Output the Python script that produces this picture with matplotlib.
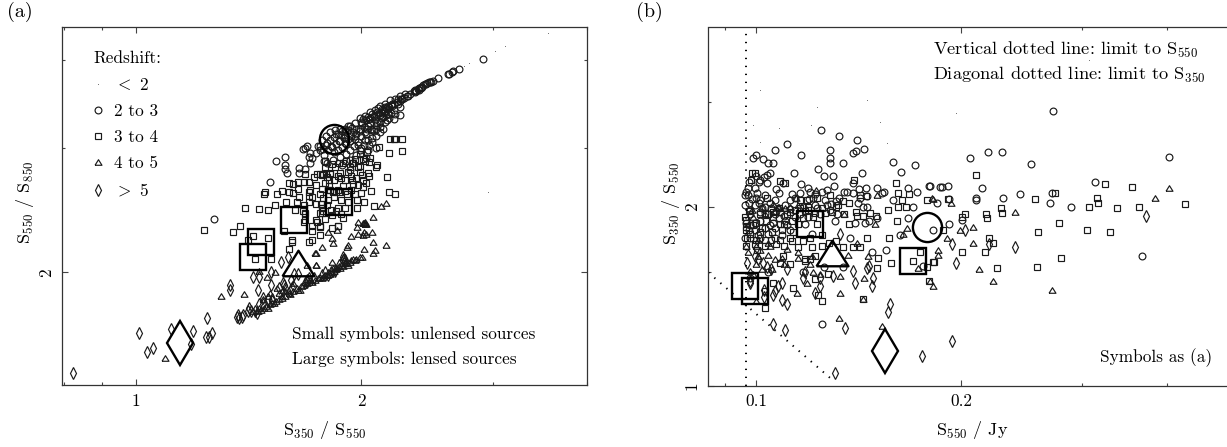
import matplotlib
matplotlib.use("Agg")
import matplotlib.pyplot as plt
from matplotlib.lines import Line2D
from matplotlib.ticker import FixedLocator, FixedFormatter

plt.rcParams['font.family'] = ['cmr10', 'DejaVu Serif']
plt.rcParams['mathtext.fontset'] = 'cm'
plt.rcParams['axes.formatter.use_mathtext'] = True

# ---- panel (a): S350/S550 vs S550/S850 ----
a_dots = [(3.55,4.37),(3.11,4.19),(3.02,4.12),(2.79,3.97),(2.74,3.92),(2.95,2.60)]
a_circles = [(1.27,2.38),(1.54,2.88),(1.58,2.92),(1.58,2.84),(1.58,2.80),(1.59,2.77),(1.51,2.69),(1.67,2.99),(1.69,3.02),(1.68,3.00),(1.71,2.95),(1.70,2.92),(1.72,2.91),(1.74,2.95),(1.71,2.86),(1.65,2.81),(1.65,2.77),(1.68,2.80),(1.75,3.02),(1.785,2.93),(1.785,2.88),(1.80,2.86),
(1.774,3.08),(1.796,3.12),(1.818,3.16),(1.846,3.18),(1.875,3.20),(1.796,3.03),(1.818,3.08),(1.841,3.11),(1.863,3.14),(1.886,3.17),(1.807,2.98),(1.829,3.01),(1.852,3.04),(1.875,3.07),(1.898,3.10),(1.841,2.96),(1.863,2.98),(1.886,3.01),(1.91,3.04),(1.933,3.07),(1.904,3.13),(1.921,3.18),(1.945,3.21),(1.875,2.92),(1.91,2.94),(1.933,2.98),(1.957,3.02),(1.981,3.06),(1.963,3.12),(1.994,3.17),(2.018,3.22),(1.933,2.89),(1.969,2.93),(1.994,2.98),(2.018,3.03),(2.043,3.08),(2.031,3.14),(2.069,3.18),(2.095,3.24),(2.121,3.34),(2.082,3.33),(2.056,3.31),(2.006,3.26),(1.969,3.20),(2.147,3.38),(2.108,3.42),
(1.904,3.20),(1.933,3.23),(1.963,3.26),(1.994,3.31),(2.025,3.33),(2.056,3.38),(2.088,3.40),(2.121,3.44),(2.153,3.47),(2.187,3.51),(2.221,3.53),(2.255,3.56),(2.29,3.58),(2.362,3.63),(2.385,3.65),(2.42,3.69),(2.46,3.72),(2.49,3.74),(2.535,3.77),(2.62,3.83),(2.65,3.86),(2.70,3.89),(2.91,4.02),(2.35,3.62),(2.38,3.64),(2.40,3.67),(2.445,3.71),(2.48,3.73),(2.615,3.83),(2.64,3.85),(2.31,3.56),(2.27,3.53),(2.24,3.52),(2.20,3.47),(2.174,3.45),(2.153,3.43),(2.134,3.41),
(2.255,3.43),(2.21,3.40),(2.255,3.35),(2.21,3.30),(2.167,3.29),(2.14,3.19),(2.095,3.20),(2.22,3.36),(2.174,3.36),(2.14,3.32),(2.121,3.27),(2.088,3.29),(2.056,3.26),(2.037,3.20),(2.069,3.06),(2.095,3.12),(2.12,3.16),(2.04,2.98),(2.09,3.00),(2.03,2.91),(1.93,2.79),(1.886,2.84),(1.835,2.89),(1.763,2.98)]
a_circles_ridge = [(2.0,3.27),(2.01,3.30),(2.03,3.29),(2.04,3.32),(2.05,3.30),(2.07,3.32),(2.07,3.36),(2.09,3.35),(2.10,3.38),(2.11,3.37),(2.13,3.37),(2.14,3.40),(2.15,3.39),(2.16,3.42),(2.17,3.41),(2.18,3.43),(2.19,3.46),(2.20,3.44),(2.21,3.47),(2.23,3.49),(2.24,3.47),(2.25,3.50),(2.26,3.52),(2.28,3.54),(2.30,3.56),(2.32,3.58),(1.95,3.16),(1.97,3.14),(1.99,3.20),(2.00,3.12),(2.02,3.16),(2.04,3.23),(2.06,3.20),(2.08,3.17),(2.10,3.26),(2.12,3.22),(2.13,3.31),(2.15,3.27),(2.16,3.34),(2.18,3.31),(2.19,3.37),(1.90,3.05),(1.92,3.09),(1.94,3.12),(1.96,3.09),(1.98,3.03),(2.00,3.00),(2.02,3.08),(2.05,3.03),(2.07,3.10),(1.88,3.13),(1.90,3.17),(1.92,3.23),(1.85,3.14),(1.87,3.07),(2.36,3.61),(2.37,3.62),(2.385,3.63),(2.40,3.65),(2.41,3.66),(2.43,3.70),(2.44,3.70),(2.47,3.72),(1.76,3.02),(1.78,2.99),(1.80,3.05),(1.82,3.02)]
a_squares = [(1.234,2.30),(1.378,2.33),(1.40,2.47),(1.46,2.46),(1.50,2.45),(1.534,2.49),(1.488,2.60),(1.483,2.58),(1.544,2.58),(1.568,2.61),(1.622,2.67),(1.587,2.52),(1.632,2.45),(1.683,2.43),(1.602,2.68),(1.647,2.63),(1.622,2.59),(1.642,2.52),(1.678,2.49),(1.678,2.69),(1.647,2.69),(1.683,2.76),(1.434,2.25),(1.50,2.24),(1.348,2.28),(1.412,2.22),(1.443,2.09),(1.516,2.09),(1.577,2.29),(1.617,2.22),(1.617,2.21),(1.602,2.16),(1.704,2.21),(1.72,2.29),(1.763,2.32),(1.829,2.31),(1.863,2.33),(1.704,2.69),(1.709,2.62),(1.73,2.73),(1.774,2.63),(1.747,2.76),(1.763,2.76),(1.78,2.76),(1.796,2.77),(1.818,2.77),(1.704,2.52),(1.812,2.65),(1.818,2.62),(1.852,2.60),(1.768,2.50),(1.774,2.47),(1.774,2.43),(1.683,2.42),(1.683,2.37),(1.741,2.37),(1.763,2.33),(1.72,2.33),
(2.21,3.09),(2.187,3.09),(2.22,3.09),(2.27,3.09),(2.18,2.95),(2.27,2.97),(2.167,2.73),(2.18,2.60),(2.22,2.58),(2.114,3.01),(2.095,2.82),(2.10,2.84),(2.062,2.61),(2.056,2.91),(2.012,2.90),(1.994,2.83),(1.95,2.86),(2.037,2.96),(1.933,2.82),(1.945,2.70),(1.95,2.67),(2.012,2.70),(2.006,2.75),(2.012,2.64),(1.892,2.65),(1.875,2.60),(1.915,2.58),(1.835,2.60),(1.807,2.62),(1.812,2.70),(1.774,2.75),(1.818,2.76),(1.875,2.77),(1.79,2.81),(1.846,2.82),(1.892,2.86),(1.945,2.86),
(2.018,2.52),(2.082,2.48),(1.975,2.47),(1.975,2.53),(1.863,2.33),(1.892,2.39),(1.747,2.36),(1.678,2.36),(1.774,2.47),(1.78,2.44),(1.807,2.53),(1.904,2.47),(1.863,2.47),(2.043,2.77),(1.981,2.82)]
a_squares_mid = [(1.70,2.60),(1.72,2.56),(1.74,2.66),(1.76,2.58),(1.78,2.55),(1.80,2.49),(1.82,2.45),(1.84,2.56),(1.86,2.62),(1.88,2.53),(1.90,2.61),(1.92,2.52),(1.94,2.62),(1.96,2.58),(1.98,2.66),(2.00,2.59),(2.03,2.68),(2.05,2.74),(1.84,2.70),(1.86,2.74),(1.88,2.72),(1.90,2.70),(1.92,2.78),(1.94,2.74),(1.97,2.72),(1.99,2.78),(1.79,2.68),(1.80,2.73),(1.70,2.57),(1.65,2.56),(1.60,2.60),(1.67,2.44),(1.76,2.43),(1.74,2.50),(1.83,2.41),(1.85,2.44),(1.88,2.42),(1.79,2.38),(1.76,2.26),(1.72,2.22),(2.05,2.87),(2.02,2.88),(1.96,2.90),(1.99,2.94),(1.91,2.88),(1.87,2.86),(1.83,2.85),(1.79,2.88)]
a_triangles = [(2.16,2.51),(2.127,2.48),(2.075,2.40),(1.981,2.36),(2.018,2.35),(1.975,2.32),(2.069,2.28),(1.981,2.27),(2.018,2.28),(2.012,2.26),(2.031,2.27),(1.857,2.30),(1.807,2.28),(1.94,2.25),(1.921,2.19),(1.915,2.17),(1.829,2.24),(1.835,2.20),(1.774,2.17),(1.741,2.13),(2.075,2.21),(2.16,2.19),(2.018,2.16),(2.088,2.15),(2.075,2.13),(2.006,2.10),(1.892,2.10),(1.898,2.08),(1.904,2.06),(1.829,2.07),(1.921,2.05),(1.875,2.03),(1.835,2.03),(1.741,2.05),(1.30,1.85),(1.395,1.86),(1.46,2.01),(1.497,1.97),(1.534,2.00),(1.544,1.90),(1.511,1.87),(1.568,1.85),(1.573,1.89),(1.647,1.89),(1.736,2.13),(1.741,2.05),(1.693,2.05),(1.434,1.76),(1.483,1.78),(1.52,1.81),(1.568,1.84),(1.693,1.93),(1.736,1.95),(1.78,1.97),(1.818,1.99),(1.857,2.03),(1.915,2.06),(1.963,2.08),(1.994,2.10),(1.094,1.51),(1.456,1.76),(1.607,1.86),(1.657,1.89),(1.672,1.92)]
a_triangles_ridge = [(1.46,1.78),(1.47,1.77),(1.49,1.79),(1.50,1.78),(1.51,1.80),(1.53,1.81),(1.54,1.82),(1.55,1.83),(1.58,1.85),(1.60,1.87),(1.62,1.88),(1.64,1.90),(1.66,1.91),(1.70,1.94),(1.71,1.95),(1.72,1.94),(1.75,1.96),(1.76,1.97),(1.77,1.96),(1.79,1.98),(1.80,1.98),(1.83,2.00),(1.84,2.01),(1.85,2.02),(1.87,2.04),(1.88,2.05),(1.89,2.04),(1.90,2.06),(1.93,2.07),(1.94,2.08),(1.95,2.09),(1.97,2.09),(2.02,2.36),(2.01,2.35),(2.03,2.34),(2.02,2.34),(1.55,1.87),(1.52,1.84),(1.58,1.88),(1.50,1.85),(1.62,1.93),(1.48,1.83)]
a_diamonds = [(.824,1.44),(1.009,1.64),(1.034,1.54),(1.054,1.56),(1.113,1.66),(1.19,1.65),(1.185,1.58),(1.24,1.62),(1.252,1.62),(1.264,1.64),(1.244,1.72),(1.336,1.92),(1.336,1.89),(1.374,1.72),(1.386,1.73),(1.365,1.73),(1.417,1.78),(1.425,1.76),(1.412,1.76),(1.456,1.89),(1.434,1.97),(1.46,1.97),(1.516,2.00),(1.563,2.07),(1.597,2.10),(1.627,1.99),(1.647,1.99),(1.577,1.92),(1.582,1.90),(1.516,1.92),(1.607,1.88),(1.617,1.90),(1.693,1.95),(1.693,1.94),(1.48,1.84),(1.48,1.80),(1.52,1.83),(1.892,2.10),(1.898,2.09),(1.807,1.98),(1.846,2.01),
(1.68,1.93),(1.70,1.96),(1.73,1.96),(1.77,1.98),(1.79,2.00),(1.82,2.00),(1.87,2.05),(1.90,2.08),(1.55,1.90),(1.57,1.93),(1.61,1.95),(1.44,1.76),(1.46,1.80),(1.50,1.83),(1.39,1.74),(1.37,1.74),(1.45,1.75)]
a_lensed_circles = [(1.84,3.09)]
a_lensed_squares = [(1.627,2.37),(1.869,2.52),(1.434,2.10),(1.47,2.21)]
a_lensed_triangles = [(1.647,2.06)]
a_lensed_diamonds = [(1.145,1.585)]

# ---- panel (b): S550 vs S350/S550 ----
b_dots = [(.123,2.94),(.099,2.74),(.108,2.71),(.1204,2.74),(.1014,2.57),(.1519,2.78),(.1553,2.56),(.1454,3.02),(.3071,3.53),(.1963,2.87),(.1014,3.14)]
b_circles = [(.272,2.90),(.2057,2.41),(.2186,2.47),(.2295,2.47),(.2527,2.36),(.4023,2.42),(.3135,2.20),(.1872,2.16),(.191,2.17),(.1798,2.17),(.2142,2.15),(.21,2.07),(.21,2.05),(.2298,2.07),(.2435,2.10),(.2712,2.11),(.2694,2.03),(.289,2.00),(.3673,1.655),(.2003,1.90),(.1916,1.87),(.184,2.03),(.1916,2.06),(.1816,1.83),(.1249,1.27),(.1041,1.55),(.1755,1.59),(.1479,1.675),(.155,1.69),(.134,1.585),(.1258,1.585),(.1172,1.55),(.098,1.52),
(.111,2.55),(.1245,2.69),(.1322,2.63),(.1405,2.59),(.1438,2.50),(.1387,2.46),(.1401,2.48),(.1283,2.49),(.1283,2.41),(.1283,2.37),(.134,2.37),(.1164,2.44),(.1066,2.49),(.1,2.44),(.099,2.41),(.1024,2.40),(.1041,2.37),(.1059,2.37),(.1137,2.28),(.1233,2.31),(.1258,2.25),(.1296,2.25),(.143,2.28),(.1387,2.19),(.1164,2.18),(.1587,2.38),(.1709,2.35),(.1632,2.29),(.1792,2.17),(.167,2.15),(.172,2.12),(.1504,2.15),(.153,2.11),(.1541,2.12),(.1322,2.07),(.136,2.12),(.1345,2.12),(.1387,2.11),(.1416,2.14),(.1449,2.15),(.12,2.12),(.1287,2.02),(.1196,2.06),(.1454,2.00),(.1435,2.00),(.1409,2.03),(.142,2.07),(.1454,2.08),(.1587,2.05),(.1698,2.00),(.1859,2.16),(.167,1.915),(.1625,1.79),(.1504,1.91),(.1464,1.89),(.1445,1.88),(.1396,1.88),(.1314,1.94),(.1373,1.77),
(.1048,2.28),(.1037,2.26),(.1027,2.24),(.1014,2.22),(.1037,2.19),(.1096,2.19),(.1081,2.11),(.0973,2.15),(.0964,2.09),(.0973,2.09),(.0997,2.15),(.1003,2.11),(.114,2.07),(.0964,1.77),(.098,1.77),
(.0964,2.01),(.098,1.975),(.0997,2.01),(.1014,1.96),(.1031,2.00),(.1048,2.03),(.1066,2.05),(.098,1.86),(.0997,1.83),(.1014,1.89),(.1031,1.84),(.1048,1.86),(.1066,1.94),(.1084,1.96),(.1102,2.01),(.1121,2.05),(.1014,2.05),(.1066,1.84),(.1102,1.89),(.1121,1.83),(.116,1.94),(.118,1.87),(.122,2.01),(.1241,1.94),(.1262,2.05),(.1283,1.975),(.1306,1.89),(.1208,1.80),(.1066,1.77),(.1014,1.77)]
b_circles_blob = [(.0975,2.03),(.0985,2.06),(.101,2.03),(.102,1.99),(.103,1.95),(.105,1.99),(.107,1.97),(.108,1.91),(.110,1.93),(.112,1.98),(.114,1.92),(.117,2.00),(.119,1.92),(.121,2.07),(.123,1.99),(.127,2.01),(.131,2.04),(.098,1.94),(.0965,1.88),(.0975,1.83),(.0995,1.88),(.1005,1.79),(.104,1.80),(.106,1.88),(.109,1.79),(.111,1.86),(.113,2.10),(.116,2.11),(.119,2.15),(.122,2.10),(.125,2.12),(.127,2.13),(.13,2.17),(.0965,2.12),(.0975,2.20),(.1,2.25),(.101,2.20),(.1,2.07),(.103,2.09),(.107,2.14)]
b_squares = [(.21,2.26),(.3243,2.18),(.356,2.16),(.2739,2.11),(.2561,2.06),(.3156,2.07),(.3166,2.03),(.3071,2.00),(.3379,1.99),(.3636,2.00),(.4246,2.02),(.2284,1.99),(.2291,1.95),(.2173,1.94),(.218,1.91),(.2022,1.94),(.2003,1.92),(.2776,1.88),(.2587,1.81),(.305,1.83),(.3298,1.81),(.1878,1.83),(.2194,1.77),(.2228,1.74),(.2003,1.68),(.2166,1.68),(.2795,1.64),(.2578,1.585),(.2253,1.58),(.1816,1.615),(.191,2.06),
(.1084,1.61),(.1275,1.54),(.122,1.51),(.1133,1.46),(.1233,1.42),(.1249,1.39),(.1435,1.40),(.1504,1.575),(.151,1.64),(.1577,1.61),(.1698,1.62),(.1738,1.68),(.178,1.585),(.1822,1.615),(.1792,1.50),(.1059,1.49),(.1031,1.44),(.1031,1.35),(.1003,1.69),(.12,1.635),(.118,1.635),(.122,1.65),(.1096,1.65),
(.1603,2.19),(.1614,2.11),(.1675,2.10),(.1637,2.05),(.178,2.05),(.1659,2.00),(.1614,2.00),(.156,1.975),(.1608,1.89),(.1454,1.77),(.1566,1.77),(.1405,1.93),(.1435,1.93),(.1368,1.87),(.1345,1.94),(.1387,1.71),(.134,1.71),(.142,1.71),(.1391,2.22),(.1449,2.08),(.142,2.09),
(.0987,2.28),(.0997,2.28),(.0983,2.22),(.1084,2.21),(.1102,2.19),(.1037,2.07),(.0964,1.92),(.1188,2.05),(.1229,2.07),(.116,1.99),(.1192,1.975),(.1121,1.96),(.1092,1.83),(.1133,1.81),
(.0968,1.90),(.099,1.86),(.1014,1.94),(.1034,1.89),(.1059,1.92),(.1084,1.87),(.111,1.94),(.114,1.975),(.116,2.05),(.1192,2.00),(.122,1.95),(.1249,1.99),(.1283,2.09),(.1318,2.01),(.098,1.80),(.1014,1.81),(.1055,1.81),(.1084,1.76),(.1121,1.77),(.1152,1.71),(.1208,1.71),(.1249,1.72),(.0968,1.72),(.0997,1.73),(.1031,1.76),(.118,1.62),(.1121,1.60)]
b_squares_blob = [(.0975,1.97),(.0965,1.85),(.1,1.88),(.102,1.84),(.104,1.94),(.106,1.96),(.108,1.99),(.11,1.87),(.113,1.89),(.115,1.87),(.117,1.91),(.118,1.97),(.121,1.92),(.123,1.87),(.126,1.95),(.129,1.96),(.131,2.0),(.097,1.77),(.100,1.76),(.103,1.72),(.105,1.76),(.107,1.73),(.11,1.72),(.113,1.75),(.117,1.75),(.12,1.77),(.125,1.79),(.128,1.74),(.131,1.75),(.0965,1.83),(.134,2.04),(.137,2.03),(.14,1.96),(.147,1.95),(.15,1.93)]
b_triangles = [(.4023,2.15),(.3838,2.07),(.2394,1.96),(.1816,2.06),(.193,2.03),(.2078,1.85),(.1989,1.83),(.2078,1.74),(.1904,1.77),(.1847,1.69),(.1847,1.66),(.2121,1.57),(.2221,1.50),(.2712,1.45),(.1816,1.47),(.1798,1.50),(.0973,1.68),(.1055,1.57),(.1212,1.55),(.1188,1.49),(.1148,1.43),(.1327,1.53),(.1327,1.43),(.144,1.52),(.1435,1.40),(.1322,1.30),(.1531,1.26),(.1,1.39),(.1364,1.66),(.1459,1.65),(.1726,1.58),(.098,1.56),(.1494,1.87),(.1345,1.94),(.1664,1.84),(.1642,1.80),(.181,2.07),(.1144,2.07),(.1224,2.13),(.1504,2.09),(.1405,1.74),(.0987,1.975),(.1031,1.94),(.1077,2.00),(.1102,1.99),(.1007,1.76),(.1048,1.72),(.1014,1.69),(.1041,1.66),(.1066,1.63),(.1092,1.64),(.1152,1.64),(.12,1.60),(.1241,1.54),(.1208,1.65),(.099,1.54),(.1007,1.65),
(.099,1.92),(.102,2.0),(.106,2.02),(.108,2.0),(.112,2.0),(.115,2.01),(.1,1.72),(.104,1.74),(.111,1.70),(.115,1.68),(.0965,1.72),(.1,1.6),(.102,1.57),(.11,1.6)]
b_diamonds = [(.3731,1.93),(.2022,1.83),(.1936,1.73),(.2194,1.73),(.2394,1.71),(.1964,1.61),(.1387,1.56),(.1396,1.49),(.1479,1.47),(.1485,1.52),(.1464,1.59),(.1454,1.58),(.1296,1.53),(.1241,1.47),(.1241,1.52),(.122,1.43),(.118,1.55),(.1172,1.52),(.111,1.57),(.1092,1.49),(.1092,1.395),(.111,1.37),(.1066,1.44),(.1059,1.42),(.1077,1.47),(.1027,1.41),(.098,1.49),(.0971,1.61),(.1037,1.585),(.1052,1.57),(.1059,1.27),(.1102,1.24),(.135,1.25),(.1306,1.05),(.1571,1.37),(.156,1.33),(.175,1.12),(.1935,1.19),(.1327,1.80),(.0997,1.65),(.1007,1.63),(.1024,1.61),(.098,1.50),(.1027,1.45)]
b_lensed_circles = [(.178,1.85)]
b_lensed_squares = [(.0964,1.47),(.0997,1.44),(.1698,1.62),(.12,1.87)]
b_lensed_triangles = [(.1292,1.67)]
b_lensed_diamonds = [(.1545,1.145)]

s550_limit = 0.0965
diagonal_x = [0.0851, 0.1297]
diagonal_y = [1.55, 1.02]

legend_labels = ['$<$ 2', '2 to 3', '3 to 4', '4 to 5', '$>$ 5']

W, H = 1227, 447
INK = '#1a1a1a'
FS = 12.4
fig = plt.figure(figsize=(W/100, H/100), dpi=100)

def axes_px(l, r, t, b):
    return fig.add_axes([l/W, 1-b/H, (r-l)/W, (b-t)/H])

ax_a = axes_px(62, 586.5, 27, 385.3)
ax_b = axes_px(708.3, 1233, 27.5, 385.7)

SMALL = dict(mfc='none', mec=INK, mew=0.85, ls='none')
BIG = dict(mfc='none', mec='black', mew=1.7, ls='none')
TRI = [(-1, -0.8), (1, -0.8), (0, 0.8), (-1, -0.8)]

def xy(pts):
    return [p[0] for p in pts], [p[1] for p in pts]

def draw(ax, dots, circ, sq, tri, dia, lc, ls, lt, ld):
    ax.plot(*xy(dots), marker='.', ms=1.2, color='#555555', mew=0, ls='none')
    ax.plot(*xy(circ), marker='o', ms=4.9, **SMALL)
    ax.plot(*xy(sq), marker='s', ms=4.5, **SMALL)
    ax.plot(*xy(tri), marker=TRI, ms=5.0, **SMALL)
    ax.plot(*xy(dia), marker='d', ms=5.8, **SMALL)
    ax.plot(*xy(lc), marker='o', ms=21, **BIG)
    ax.plot(*xy(ls), marker='s', ms=19, **BIG)
    ax.plot(*xy(lt), marker=TRI, ms=23, **BIG)
    ax.plot(*xy(ld), marker='d', ms=22.5, **BIG)

draw(ax_a, a_dots, a_circles + a_circles_ridge, a_squares + a_squares_mid,
     a_triangles + a_triangles_ridge, a_diamonds,
     a_lensed_circles, a_lensed_squares, a_lensed_triangles, a_lensed_diamonds)
draw(ax_b, b_dots, b_circles + b_circles_blob, b_squares + b_squares_blob,
     b_triangles, b_diamonds,
     b_lensed_circles, b_lensed_squares, b_lensed_triangles, b_lensed_diamonds)

dotted = (0, (0.7, 3.4))
ax_b.axvline(s550_limit, color='black', lw=1.4, ls=dotted)
ax_b.plot(diagonal_x, diagonal_y, color='black', lw=1.4, ls=dotted)

ax_a.set_xscale('log'); ax_a.set_yscale('log')
ax_b.set_xscale('log'); ax_b.set_yscale('log')
ax_a.set_xlim(0.796, 4.0); ax_a.set_ylim(1.382, 4.46)
ax_b.set_xlim(0.0851, 0.5); ax_b.set_ylim(1.0, 4.0)

def ticks(ax, xmaj, xlab, xmin, ymaj, ylab, ymin):
    ax.xaxis.set_major_locator(FixedLocator(xmaj))
    ax.xaxis.set_major_formatter(FixedFormatter(xlab))
    ax.xaxis.set_minor_locator(FixedLocator(xmin))
    ax.xaxis.set_minor_formatter(FixedFormatter([]))
    ax.yaxis.set_major_locator(FixedLocator(ymaj))
    ax.yaxis.set_major_formatter(FixedFormatter(ylab))
    ax.yaxis.set_minor_locator(FixedLocator(ymin))
    ax.yaxis.set_minor_formatter(FixedFormatter([]))
    ax.tick_params(which='major', direction='in', top=True, right=True, length=4.5,
                   width=0.8, color='#444444', labelsize=FS, pad=6)
    ax.tick_params(which='minor', direction='in', top=True, right=True, length=2.5,
                   width=0.8, color='#444444')
    for lab in ax.get_yticklabels():
        lab.set_rotation(90); lab.set_va('center')
    for s in ax.spines.values():
        s.set_linewidth(0.9); s.set_color('#333333')

ticks(ax_a, [1, 2], ['1', '2'], [0.8, 0.9, 3, 4], [2], ['2'], [3, 4])
ticks(ax_b, [0.1, 0.2], ['0.1', '0.2'], [0.09, 0.3, 0.4], [1, 2], ['1', '2'], [1.55, 3])

def ptext(x, y, s, **kw):
    kw.setdefault('fontsize', FS)
    kw.setdefault('va', 'center')
    fig.text(x/W, 1-y/H, s, **kw)

ptext(7, 12, '(a)', fontsize=14.5)
ptext(636, 12, '(b)', fontsize=14.5)
ptext(292, 334, 'Small symbols: unlensed sources')
ptext(292, 359, 'Large symbols: lensed sources')
ptext(933, 50, r'Vertical dotted line: limit to S$_{\mathsf{550}}$', fontsize=13.2)
ptext(933, 75, r'Diagonal dotted line: limit to S$_{\mathsf{350}}$', fontsize=13.2)
ptext(1100, 358, 'Symbols as (a)')
ptext(325, 430, r'S$_{\mathsf{350}}$ / S$_{\mathsf{550}}$', ha='center', fontsize=13)
ptext(972, 430, r'S$_{\mathsf{550}}$ / Jy', ha='center', fontsize=13)
ptext(25, 202, r'S$_{\mathsf{550}}$ / S$_{\mathsf{850}}$', rotation=90, ha='center', fontsize=13)
ptext(671, 203, r'S$_{\mathsf{350}}$ / S$_{\mathsf{550}}$', rotation=90, ha='center', fontsize=13)

handles = [
    Line2D([], [], marker='.', ms=1.2, color='#555555', mew=0, ls='none'),
    Line2D([], [], marker='o', ms=4.9, **SMALL),
    Line2D([], [], marker='s', ms=4.5, **SMALL),
    Line2D([], [], marker=TRI, ms=5.0, **SMALL),
    Line2D([], [], marker='d', ms=5.8, **SMALL),
]
leg = ax_a.legend(handles, legend_labels, title='Redshift:', loc='upper left',
                  bbox_to_anchor=((93-62)/524.5, 1-(51-27)/358.3),
                  frameon=False, fontsize=FS, title_fontsize=FS, borderpad=0,
                  borderaxespad=0, labelspacing=0.62, handlelength=0.6,
                  handletextpad=0.64, alignment='left', numpoints=1)

fig.savefig('out.png', dpi=100)
